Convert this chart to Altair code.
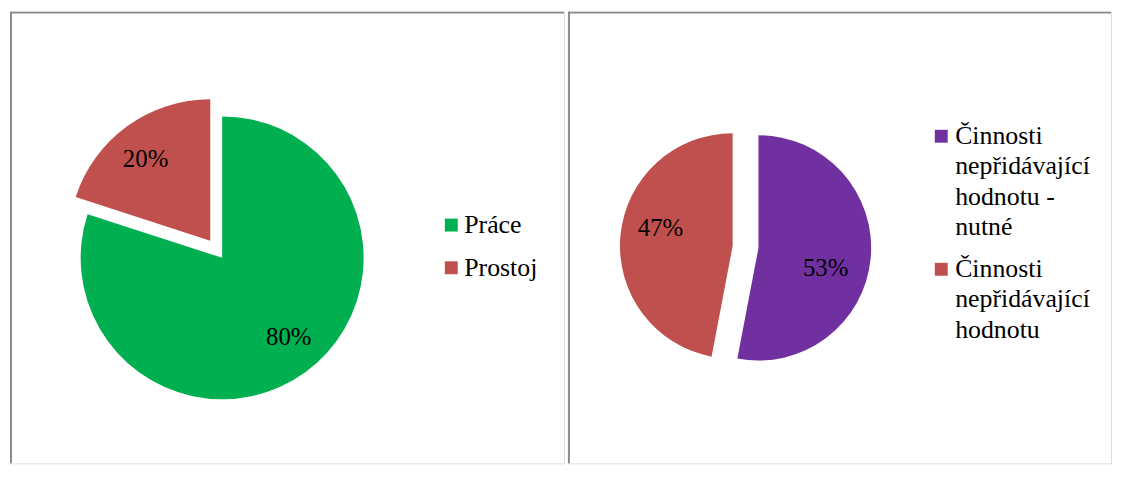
import json
import math
import altair as alt
import pandas as pd

# ---- data ----
left_cats = ["Práce", "Prostoj"]
left_vals = [80, 20]
left_labels = ["80%", "20%"]
left_colors = ["#00B050", "#C0504D"]

right_cats = ["Činnosti nepřidávající hodnotu - nutné", "Činnosti nepřidávající hodnotu"]
right_vals = [53, 47]
right_labels = ["53%", "47%"]
right_colors = ["#7030A0", "#C0504D"]
right_legend_lines = [
    ["Činnosti", "nepřidávající", "hodnotu -", "nutné"],
    ["Činnosti", "nepřidávající", "hodnotu"],
]

FONT = "Liberation Serif"
BORDER = "#8a8a8a"
W1, W2, H = 558, 547, 455
TWO_PI = 2 * math.pi


def border_layer(width, height):
    d = pd.DataFrame({"k": [0]})
    top = alt.Chart(d).mark_rule(color=BORDER, strokeWidth=2).encode(
        x=alt.value(0), x2=alt.value(width), y=alt.value(1)
    )
    left = alt.Chart(d).mark_rule(color=BORDER, strokeWidth=2).encode(
        x=alt.value(1), y=alt.value(0), y2=alt.value(height)
    )
    return [top, left]


def pie_panel(cats, vals, labels, colors, field, cx, cy, r, explode,
              label_r, label_shift, legend, width):
    df = pd.DataFrame({field: cats, "value": vals, "label": labels,
                       "order": list(range(len(cats)))})
    base = (
        alt.Chart(df)
        .transform_window(cum="sum(value)", sort=[alt.SortField("order")], frame=[None, 0])
        .transform_joinaggregate(total="sum(value)")
        .transform_calculate(
            start="(datum.cum - datum.value) / datum.total",
            end="datum.cum / datum.total",
            mid="(datum.cum - datum.value / 2) / datum.total",
        )
    )
    tscale = alt.Scale(domain=[0, 1], range=[0, TWO_PI])
    color = alt.Color(f"{field}:N", scale=alt.Scale(domain=cats, range=colors),
                      legend=legend)
    layers = border_layer(width, H)
    for i, cat in enumerate(cats):
        ex, ey = explode[i]
        sub = base.transform_filter(alt.datum[field] == cat)
        arc = sub.mark_arc(radius=r, strokeWidth=0).encode(
            theta=alt.Theta("start:Q", scale=tscale, stack=None),
            theta2="end:Q",
            x=alt.value(cx + ex),
            y=alt.value(cy + ey),
            color=color,
        )
        dx, dy = label_shift[i]
        txt = sub.mark_text(font=FONT, fontSize=25, color="black", radius=label_r[i],
                            dx=dx, dy=dy).encode(
            theta=alt.Theta("mid:Q", scale=tscale, stack=None),
            x=alt.value(cx + ex),
            y=alt.value(cy + ey),
            text="label:N",
        )
        layers += [arc, txt]
    return alt.layer(*layers).properties(width=width, height=H)


left_legend = alt.Legend(
    orient="none", legendX=431.5, legendY=202, title=None, padding=0,
    symbolType="square", symbolSize=169, symbolStrokeWidth=0,
    labelFont=FONT, labelFontSize=26, labelColor="black", labelOffset=0,
    rowPadding=17, labelLimit=400,
)

expr_parts = []
for cat, lines in zip(right_cats, right_legend_lines):
    expr_parts.append(f"datum.label == {json.dumps(cat, ensure_ascii=False)} ? "
                      f"{json.dumps(lines, ensure_ascii=False)} : ")
right_expr = "".join(expr_parts) + "datum.label"

right_legend = alt.Legend(
    orient="none", legendX=363, legendY=112.5, title=None, padding=0,
    symbolType="square", symbolSize=169, symbolStrokeWidth=0,
    labelFont=FONT, labelFontSize=26, labelColor="black", labelOffset=1,
    rowPadding=16, labelLimit=400, labelExpr=right_expr,
)

p1 = pie_panel(left_cats, left_vals, left_labels, left_colors, "kat1",
               cx=213.7, cy=248, r=142.5,
               explode=[(0, 0), (-12, -17.2)],
               label_r=[104, 104], label_shift=[(6, -4), (-4, 2)],
               legend=left_legend, width=W1)

p2 = pie_panel(right_cats, right_vals, right_labels, right_colors, "kat2",
               cx=191.9, cy=238, r=113.5,
               explode=[(0, 0), (-26, -2)],
               label_r=[70, 72], label_shift=[(-2, 14), (-1, -11)],
               legend=right_legend, width=W2)

chart = (
    alt.hconcat(p1, p2, spacing=0)
    .resolve_scale(color="independent")
    .resolve_legend(color="independent")
    .properties(padding=0)
    .configure_view(strokeWidth=0, stroke="transparent")
    .configure(style={"guide-label": {"lineHeight": 30.5}})
)

chart.save("out.html", embed_options={"renderer": "svg", "actions": False})
